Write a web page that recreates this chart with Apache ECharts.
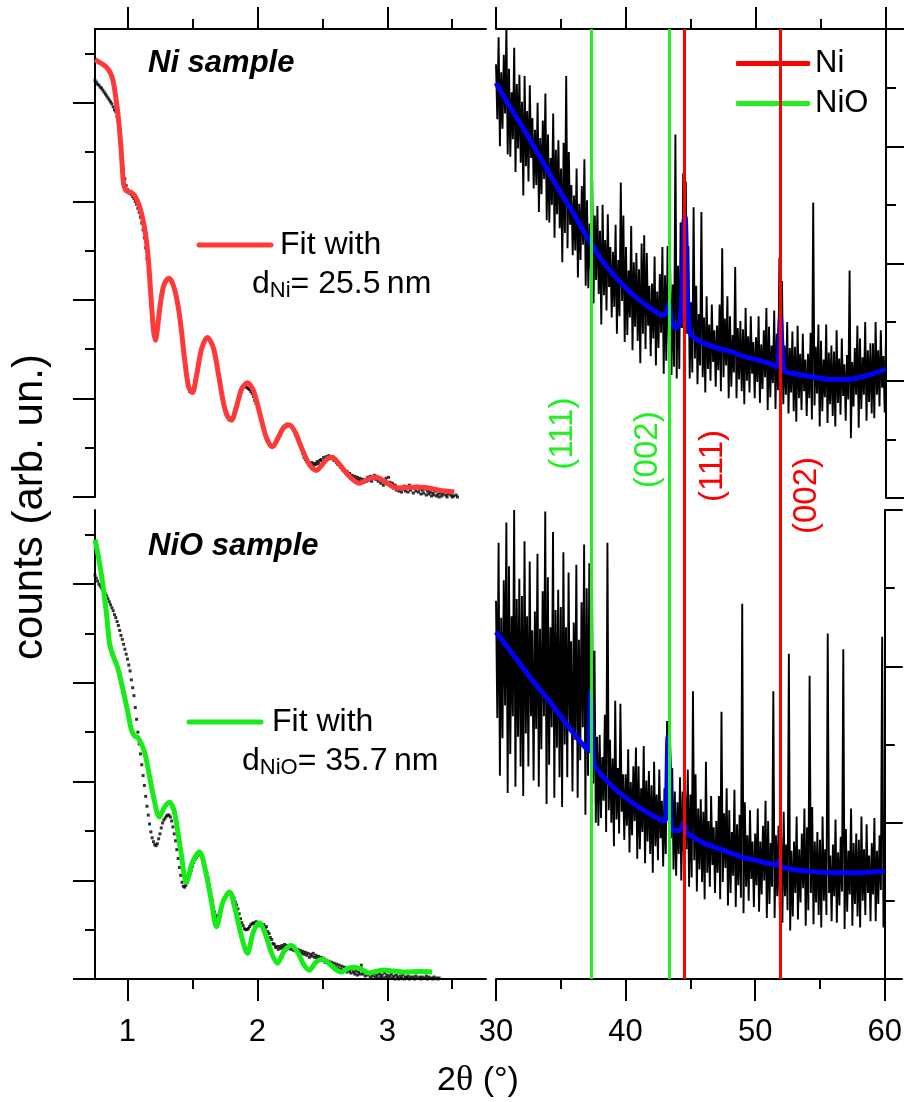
<!DOCTYPE html>
<html>
<head>
<meta charset="utf-8">
<script src="https://cdn.jsdelivr.net/npm/echarts@6/dist/echarts.min.js"></script>
<style>
  html, body { margin: 0; padding: 0; background: #fff; }
  #chart { width: 905px; height: 1102px; }
</style>
</head>
<body>
<div id="chart"></div>
<script>
// ---------- X-ray reflectivity (low angle), log10 counts, step scan ----------
const xrrStart = 0.75;
const xrrStep = 0.01;

// Ni sample, measured
const xrrNiCounts = [
  4.23,4.21,4.19,4.18,4.16,4.15,4.13,4.11,4.09,4.07,
  4.05,4.03,4.01,3.99,3.96,3.93,3.91,3.86,3.79,3.69,
  3.57,3.45,3.33,3.23,3.16,3.12,3.10,3.08,3.07,3.05,
  3.03,3.00,2.97,2.93,2.89,2.84,2.78,2.71,2.63,2.53,
  2.42,2.28,2.12,1.96,1.80,1.67,1.61,1.64,1.74,1.86,
  1.96,2.05,2.11,2.16,2.19,2.21,2.22,2.22,2.21,2.19,
  2.16,2.12,2.06,2.00,1.92,1.84,1.74,1.63,1.52,1.40,
  1.28,1.18,1.11,1.07,1.06,1.07,1.11,1.17,1.24,1.31,
  1.38,1.45,1.50,1.55,1.58,1.60,1.61,1.61,1.60,1.58,
  1.55,1.51,1.46,1.40,1.33,1.25,1.17,1.09,1.01,0.94,
  0.88,0.84,0.81,0.79,0.78,0.79,0.81,0.85,0.89,0.94,
  0.99,1.03,1.07,1.10,1.12,1.13,1.12,1.11,1.10,1.09,
  1.07,1.05,1.02,0.98,0.95,0.91,0.87,0.83,0.78,0.73,
  0.69,0.64,0.60,0.57,0.54,0.52,0.51,0.51,0.52,0.55,
  0.58,0.61,0.64,0.67,0.69,0.71,0.72,0.73,0.74,0.73,
  0.73,0.72,0.70,0.68,0.66,0.63,0.60,0.56,0.52,0.48,
  0.44,0.40,0.38,0.36,0.35,0.34,0.33,0.35,0.32,0.34,
  0.33,0.36,0.34,0.37,0.38,0.36,0.40,0.38,0.41,0.39,
  0.42,0.40,0.39,0.41,0.37,0.38,0.35,0.33,0.34,0.30,
  0.31,0.27,0.28,0.25,0.26,0.22,0.24,0.21,0.22,0.19,
  0.21,0.18,0.20,0.17,0.19,0.16,0.18,0.15,0.17,0.16,
  0.20,0.17,0.21,0.16,0.19,0.22,0.18,0.21,0.16,0.19,
  0.14,0.17,0.12,0.15,0.19,0.13,0.20,0.15,0.11,0.14,
  0.09,0.12,0.07,0.10,0.06,0.09,0.05,0.08,0.11,0.06,
  0.09,0.05,0.12,0.07,0.10,0.04,0.09,0.06,0.11,0.05,
  0.08,0.03,0.07,0.04,0.08,0.02,0.06,0.03,0.05,0.01,
  0.04,0.02,0.06,0.01,0.03,0.00,0.04,0.01,0.03,-0.01,
  0.02,0.00,0.03,-0.01,0.02,0.00,0.01,-0.01,0.02,0.00
];

// NiO sample, measured
const xrrNiOCounts = [
  4.09,4.06,4.03,4.00,3.98,3.96,3.94,3.92,3.90,3.88,
  3.85,3.82,3.79,3.76,3.73,3.69,3.66,3.62,3.58,3.53,
  3.48,3.44,3.39,3.34,3.29,3.24,3.18,3.12,3.03,2.95,
  2.87,2.75,2.63,2.50,2.38,2.28,2.17,2.06,1.96,1.85,
  1.75,1.66,1.57,1.49,1.43,1.39,1.36,1.35,1.37,1.42,
  1.47,1.53,1.58,1.61,1.63,1.65,1.66,1.66,1.64,1.60,
  1.54,1.47,1.40,1.31,1.22,1.13,1.05,0.98,0.94,0.93,
  0.95,0.98,1.02,1.06,1.10,1.14,1.18,1.21,1.23,1.25,
  1.26,1.26,1.25,1.22,1.18,1.13,1.08,1.02,0.95,0.88,
  0.80,0.73,0.68,0.64,0.63,0.65,0.68,0.72,0.76,0.79,
  0.82,0.84,0.86,0.87,0.88,0.87,0.85,0.82,0.78,0.75,
  0.71,0.66,0.61,0.57,0.54,0.51,0.50,0.50,0.51,0.53,
  0.55,0.56,0.57,0.56,0.58,0.55,0.57,0.54,0.56,0.53,
  0.55,0.51,0.53,0.48,0.46,0.42,0.40,0.36,0.35,0.32,
  0.33,0.30,0.33,0.31,0.34,0.32,0.35,0.33,0.34,0.31,
  0.33,0.30,0.32,0.29,0.31,0.28,0.30,0.27,0.29,0.26,
  0.28,0.25,0.27,0.24,0.26,0.22,0.25,0.23,0.26,0.22,
  0.24,0.21,0.23,0.20,0.22,0.19,0.21,0.17,0.19,0.16,
  0.18,0.15,0.17,0.13,0.16,0.12,0.15,0.11,0.14,0.10,
  0.13,0.09,0.12,0.10,0.07,0.11,0.08,0.06,0.10,0.07,
  0.05,0.08,0.04,0.07,0.05,0.14,0.05,0.07,0.03,0.06,
  0.04,0.06,0.02,0.05,0.03,0.06,0.02,0.04,0.01,0.05,
  0.02,0.04,0.01,0.06,0.02,0.04,0.01,0.03,0.05,0.01,
  0.03,0.00,0.04,0.02,0.00,0.03,0.01,0.04,0.00,0.02,
  0.01,0.03,0.00,0.02,-0.01,0.02,0.00,0.03,0.01,-0.01,
  0.02,0.00,0.02,-0.01,0.01,0.03,0.00,0.02,-0.01,0.01,
  0.00,0.02,-0.01,0.01,0.00,0.01
];

// Simulated reflectivity curves [2theta, log10 counts]
const xrrNiFit = [
  [0.75,4.44],[0.80,4.40],[0.84,4.36],[0.87,4.30],[0.89,4.22],[0.905,4.10],[0.92,3.96],
  [0.935,3.78],[0.95,3.55],[0.96,3.35],[0.97,3.18],[0.985,3.12],[1.00,3.10],[1.03,3.09],
  [1.06,3.05],[1.09,2.96],[1.115,2.84],[1.14,2.66],[1.16,2.42],[1.18,2.05],[1.20,1.70],
  [1.215,1.59],[1.23,1.70],[1.25,1.93],[1.28,2.15],[1.32,2.22],[1.36,2.12],[1.40,1.85],
  [1.44,1.40],[1.47,1.12],[1.50,1.06],[1.53,1.22],[1.57,1.50],[1.615,1.62],[1.66,1.52],
  [1.70,1.25],[1.74,0.95],[1.77,0.82],[1.80,0.78],[1.84,0.92],[1.88,1.10],[1.923,1.16],
  [1.97,1.08],[2.02,0.84],[2.07,0.60],[2.115,0.51],[2.16,0.60],[2.20,0.70],[2.246,0.73],
  [2.29,0.66],[2.34,0.50],[2.40,0.33],[2.454,0.27],[2.50,0.33],[2.54,0.39],[2.577,0.40],
  [2.62,0.35],[2.70,0.22],[2.785,0.14],[2.85,0.18],[2.915,0.20],[2.99,0.15],[3.07,0.09],
  [3.17,0.10],[3.27,0.10],[3.40,0.07],[3.515,0.05]
];
const xrrNiOFit = [
  [0.75,4.45],[0.78,4.25],[0.81,4.00],[0.84,3.68],[0.862,3.40],[0.89,3.27],[0.923,3.16],
  [0.95,3.02],[0.977,2.86],[1.00,2.72],[1.031,2.52],[1.055,2.46],[1.077,2.45],[1.10,2.40],
  [1.131,2.30],[1.16,2.12],[1.20,1.85],[1.246,1.64],[1.285,1.74],[1.323,1.79],[1.36,1.70],
  [1.41,1.30],[1.454,0.98],[1.50,1.18],[1.554,1.29],[1.60,1.10],[1.645,0.80],[1.685,0.53],
  [1.735,0.78],[1.785,0.88],[1.83,0.70],[1.88,0.42],[1.923,0.26],[1.97,0.48],[2.015,0.57],
  [2.06,0.46],[2.11,0.26],[2.154,0.16],[2.21,0.29],[2.262,0.34],[2.31,0.27],[2.36,0.14],
  [2.40,0.09],[2.45,0.17],[2.50,0.20],[2.55,0.16],[2.60,0.10],[2.646,0.07],[2.70,0.11],
  [2.746,0.12],[2.80,0.10],[2.862,0.06],[2.92,0.08],[2.977,0.09],[3.05,0.08],[3.15,0.07],
  [3.25,0.075],[3.346,0.07]
];

// ---------- X-ray diffraction (wide angle), log counts, step scan ----------
const xrdStart = 30;
const xrdStep = 0.1;

const xrdNiCounts = [
  3.70,3.23,3.93,3.00,3.63,3.15,3.78,3.28,4.01,2.93,
  3.66,2.91,3.46,3.06,3.84,2.78,3.53,2.98,3.61,2.86,
  3.38,2.58,3.60,2.83,3.30,2.70,3.52,2.90,3.24,2.64,
  3.14,2.67,3.37,2.44,3.07,2.59,3.22,2.72,3.45,2.37,
  3.10,2.35,2.90,2.50,3.28,2.22,2.97,2.42,3.05,2.30,
  2.81,2.01,3.03,2.26,3.60,2.13,2.95,2.33,2.67,2.07,
  2.58,2.11,2.81,1.88,2.51,2.03,2.66,2.16,2.89,1.81,
  2.54,1.79,2.34,1.94,2.72,1.66,2.41,1.86,2.49,1.74,
  2.28,1.48,2.50,1.73,2.20,1.60,2.42,1.80,2.14,1.54,
  2.10,1.63,2.33,1.40,2.03,1.55,2.69,1.68,2.41,1.33,
  2.14,1.39,1.94,1.54,2.32,1.26,2.01,1.46,2.09,1.34,
  1.95,1.15,2.17,1.40,2.24,1.27,2.09,1.47,1.81,1.21,
  1.83,1.36,2.06,1.13,1.76,1.28,1.91,1.41,2.14,1.06,
  1.90,1.17,2.15,1.30,1.95,1.05,1.82,1.12,3.10,1.02,
  1.98,1.10,2.35,1.45,2.77,1.95,2.70,1.40,2.15,1.02,
  1.67,1.07,2.48,1.19,1.81,0.97,1.57,1.13,2.44,1.03,
  1.54,0.90,1.72,1.10,1.48,1.00,1.65,1.16,1.43,0.95,
  1.47,1.09,1.65,0.91,2.13,1.03,1.53,1.13,1.72,0.85,
  1.55,0.95,1.39,1.07,1.97,0.85,1.45,1.01,1.51,0.91,
  1.44,0.80,1.62,1.00,1.38,0.90,1.55,1.06,1.33,0.85,
  1.37,0.99,1.55,0.81,1.31,0.93,1.43,1.03,1.62,0.75,
  1.46,0.86,1.30,0.98,1.60,0.76,1.40,0.92,2.05,1.20,
  1.85,0.80,1.30,0.88,1.50,0.72,1.28,0.90,1.42,0.74,
  1.29,0.65,1.47,0.85,1.23,0.75,1.40,0.91,1.18,0.70,
  1.23,0.85,1.41,0.67,2.52,0.79,1.29,0.89,1.48,0.61,
  1.34,0.74,1.18,0.86,1.48,0.64,1.24,0.80,1.30,0.70,
  1.25,0.61,1.43,0.81,1.19,0.71,1.36,0.87,1.14,0.66,
  1.22,0.84,1.94,0.51,1.16,0.78,1.28,0.88,1.47,0.60,
  1.36,0.76,1.20,0.88,1.50,0.66,1.26,0.82,1.32,0.72,
  1.32,0.68,1.50,0.88,1.26,0.78,1.43,0.94,1.21,0.73,
  1.40
];

const xrdNiOCounts = [
  2.42,1.67,2.79,1.30,2.31,1.54,2.55,1.75,2.92,1.19,
  2.64,1.44,2.32,1.68,3.00,1.23,2.43,1.55,2.56,1.36,
  2.45,1.17,2.80,1.57,2.32,1.36,2.67,1.68,2.23,1.27,
  2.35,1.60,2.72,1.23,2.24,1.47,2.48,1.68,2.99,1.12,
  2.57,1.37,2.25,1.61,2.86,1.16,2.36,1.48,2.49,1.29,
  2.38,1.10,2.73,1.50,2.25,1.29,2.60,1.61,2.16,1.20,
  2.28,1.53,2.65,1.16,2.17,1.40,2.41,1.61,2.78,1.05,
  2.50,1.30,2.66,1.55,2.72,1.25,2.10,1.00,1.55,0.98,
  1.56,1.03,1.42,1.14,1.69,0.94,2.79,1.08,1.53,1.00,
  1.41,0.85,1.78,1.02,1.35,0.93,1.76,1.07,1.31,0.89,
  1.31,0.98,1.47,0.81,1.26,0.92,1.36,1.01,1.48,0.77,
  1.36,0.83,1.22,0.94,1.49,0.74,1.27,0.88,1.33,0.80,
  1.24,0.68,1.39,0.85,1.18,0.76,1.34,0.90,1.14,0.72,
  1.22,0.80,1.65,1.10,1.94,0.90,1.35,0.70,1.20,0.66,
  1.13,0.80,1.29,0.63,1.20,0.80,1.18,0.83,1.34,0.59,
  1.18,0.65,1.84,0.76,1.31,0.56,1.09,0.70,1.15,0.62,
  1.07,0.51,1.39,0.68,1.01,0.59,1.17,0.73,0.97,0.55,
  1.01,0.68,1.17,0.51,1.71,0.62,1.06,0.71,1.22,0.47,
  1.08,0.55,0.94,0.66,1.21,0.46,0.99,0.60,1.05,0.52,
  2.40,0.42,1.13,0.59,0.92,0.50,1.08,0.64,0.88,0.46,
  0.93,0.60,1.09,0.43,0.88,0.54,0.98,0.63,1.14,0.39,
  1.01,0.48,0.87,0.59,1.84,0.39,0.92,0.53,0.98,0.45,
  0.92,0.36,1.07,0.53,0.86,0.44,2.08,0.31,0.82,0.40,
  0.88,0.55,1.04,0.38,0.83,0.49,0.93,0.58,1.09,0.34,
  0.97,0.44,1.94,0.55,1.10,0.35,0.88,0.49,0.94,0.41,
  0.89,0.33,1.04,0.50,0.83,0.41,2.21,0.55,0.79,0.37,
  0.86,0.53,1.02,0.36,0.81,0.47,0.91,0.56,2.11,0.32,
  0.96,0.43,0.82,0.54,1.09,0.34,0.87,0.48,0.93,0.40,
  0.89,0.33,1.04,0.50,0.83,0.41,0.99,0.55,0.79,0.37,
  0.87,0.54,1.03,0.37,0.82,0.48,0.92,0.57,2.19,0.33,
  0.95
];

// Background + peak fits [2theta, log counts]
const xrdNiFit = [
  [30,3.54],[31,3.35],[32,3.17],[33,2.98],[34,2.79],[35,2.60],[36,2.42],[37,2.23],[38,2.05],
  [39,1.91],[40,1.79],[41,1.69],[42,1.61],[42.8,1.56],[43.1,1.58],[43.3,1.66],[43.5,1.52],
  [43.8,1.45],[44.1,1.48],[44.3,1.75],[44.45,2.35],[44.55,2.40],[44.7,1.80],[44.9,1.42],
  [45.2,1.37],[46,1.32],[47,1.28],[48,1.25],[49,1.21],[50,1.18],[51,1.15],[51.6,1.12],
  [51.75,1.25],[51.88,1.54],[52.02,1.25],[52.2,1.08],[53,1.06],[54,1.04],[55,1.02],
  [56,1.01],[57,1.01],[58,1.03],[59,1.06],[60,1.10]
];
const xrdNiOFit = [
  [30,2.22],[31,2.11],[32,2.00],[33,1.89],[34,1.79],[35,1.68],[36,1.57],[37,1.47],[37.15,1.46],
  [37.25,1.70],[37.32,1.84],[37.4,1.65],[37.55,1.38],[38,1.32],[39,1.23],[40,1.16],[41,1.10],
  [42,1.05],[43,1.01],[43.15,1.10],[43.27,1.55],[43.4,1.30],[43.6,0.95],[44.2,0.95],
  [44.45,1.00],[44.7,0.94],[45,0.92],[46,0.87],[47,0.84],[48,0.81],[49,0.78],[50,0.76],
  [51,0.74],[51.7,0.73],[51.85,0.76],[52.0,0.72],[53,0.70],[54,0.69],[56,0.68],[58,0.68],[60,0.69]
];

// Reference reflection positions (2theta) and their indices
const niPeaks = [44.5, 51.85];
const nioPeaks = [37.3, 43.3];
const hklLabels = ['(111)', '(002)'];

// Axis ticks
const xrrTicks = [1, 2, 3];
const xrrMinorTicks = [1.5, 2.5, 3.5];
const xrdTicks = [30, 40, 50, 60];
const xrdMinorTicks = [35, 45, 55];

// ---------- styling ----------
const FONT = '"Liberation Sans", Arial, sans-serif';
const RED_FIT = '#ff3838';
const GREEN_FIT = '#18ec18';
const RED_REF = '#ff0000';
const GREEN_REF = '#22ee22';
const BLUE_FIT = '#0000ff';
const AXIS_W = 2;

const stepSeries = (start, step, values) =>
  values.map((v, i) => [Math.round((start + i * step) * 1000) / 1000, v]);

function axisPair(kind, gridIndex, position, min, max, major, minor, labels) {
  const base = { type: 'value', gridIndex, position, min, max, splitLine: { show: false } };
  return [
    Object.assign({}, base, {
      axisLine: { show: true, onZero: false, lineStyle: { color: '#000', width: AXIS_W } },
      axisTick: { show: true, inside: false, length: kind === 'y' && position === 'right' ? 18 : 22,
                  customValues: major, lineStyle: { color: '#000', width: AXIS_W } },
      axisLabel: { show: !!labels, customValues: major, margin: 38, fontSize: 31,
                   color: '#000', fontFamily: FONT }
    }),
    Object.assign({}, base, {
      axisLine: { show: false, onZero: false },
      axisTick: { show: true, inside: false, length: 10, customValues: minor,
                  lineStyle: { color: '#000', width: AXIS_W } },
      axisLabel: { show: false }
    })
  ];
}

const ticks5 = [0, 1, 2, 3, 4], half5 = [0.5, 1.5, 2.5, 3.5, 4.5];

const xAxes = [].concat(
  axisPair('x', 0, 'top', 0.75, 3.76, xrrTicks, xrrMinorTicks, false),      // 0,1
  axisPair('x', 1, 'bottom', 0.75, 3.76, xrrTicks, xrrMinorTicks, true),    // 2,3
  axisPair('x', 2, 'top', 30, 60, xrdTicks, xrdMinorTicks, false),          // 4,5
  axisPair('x', 3, 'bottom', 30, 60, xrdTicks, xrdMinorTicks, true),        // 6,7
  [{ type: 'value', gridIndex: 4, min: 30, max: 60, show: false }]         // 8
);

const yAxes = [].concat(
  axisPair('y', 0, 'left', 0, 4.75, ticks5, half5, false),                  // 0,1
  axisPair('y', 1, 'left', 0, 4.75, ticks5, half5, false),                  // 2,3
  axisPair('y', 2, 'right', 0, 4, [0, 1, 2, 3, 4], [0.5, 1.5, 2.5, 3.5], false), // 4,5
  axisPair('y', 3, 'right', 0, 3, [0, 1, 2, 3], [0.5, 1.5, 2.5], false),   // 6,7
  [{ type: 'value', gridIndex: 4, min: 0, max: 1, show: false }]           // 8
);

function refLineSeries(name, color, peaks) {
  return {
    name, type: 'line', xAxisIndex: 8, yAxisIndex: 8, data: [], color,
    lineStyle: { color, width: 3 }, itemStyle: { color },
    markLine: {
      silent: true, symbol: 'none', animation: false,
      label: { show: false },
      lineStyle: { color, width: 3, type: 'solid' },
      data: peaks.map(p => ({ xAxis: p }))
    }
  };
}

const NOISE_W = 1.9;
const series = [
  refLineSeries('NiO', GREEN_REF, nioPeaks),
  refLineSeries('Ni', RED_REF, niPeaks),
  // wide-angle scans
  { type: 'line', xAxisIndex: 4, yAxisIndex: 4, data: stepSeries(xrdStart, xrdStep, xrdNiCounts),
    showSymbol: false, lineStyle: { color: '#000', width: NOISE_W, join: 'bevel' }, silent: true },
  { type: 'line', xAxisIndex: 6, yAxisIndex: 6, data: stepSeries(xrdStart, xrdStep, xrdNiOCounts),
    showSymbol: false, lineStyle: { color: '#000', width: NOISE_W, join: 'bevel' }, silent: true },
  { type: 'line', xAxisIndex: 4, yAxisIndex: 4, data: xrdNiFit, smooth: 0.25,
    showSymbol: false, lineStyle: { color: BLUE_FIT, width: 5 }, silent: true },
  { type: 'line', xAxisIndex: 6, yAxisIndex: 6, data: xrdNiOFit, smooth: 0.25,
    showSymbol: false, lineStyle: { color: BLUE_FIT, width: 5 }, silent: true },
  // reflectivity fits
  { type: 'line', xAxisIndex: 0, yAxisIndex: 0, data: xrrNiFit, smooth: 0.3,
    showSymbol: false, lineStyle: { color: RED_FIT, width: 5 }, silent: true },
  { type: 'line', xAxisIndex: 2, yAxisIndex: 2, data: xrrNiOFit, smooth: 0.3,
    showSymbol: false, lineStyle: { color: GREEN_FIT, width: 5 }, silent: true },
  // reflectivity measurements
  { type: 'scatter', xAxisIndex: 0, yAxisIndex: 0, data: stepSeries(xrrStart, xrrStep, xrrNiCounts),
    symbol: 'rect', symbolSize: 3, itemStyle: { color: '#000' }, silent: true },
  { type: 'scatter', xAxisIndex: 2, yAxisIndex: 2, data: stepSeries(xrrStart, xrrStep, xrrNiOCounts),
    symbol: 'rect', symbolSize: 3, itemStyle: { color: '#000' }, silent: true }
];

const chart = echarts.init(document.getElementById('chart'), null, { renderer: 'canvas' });

chart.setOption({
  animation: false,
  backgroundColor: '#fff',
  grid: [
    { left: 95, top: 29, width: 391, height: 468 },
    { left: 95, top: 510, width: 391, height: 469 },
    { left: 496, top: 29, width: 390, height: 469 },
    { left: 496, top: 510, width: 390, height: 469 },
    { left: 496, top: 29, width: 390, height: 950 }
  ],
  xAxis: xAxes,
  yAxis: yAxes,
  legend: {
    data: ['Ni', 'NiO'], orient: 'vertical', left: 730, top: 40,
    icon: 'roundRect', itemWidth: 74, itemHeight: 5, itemGap: 9,
    padding: [8, 6, 8, 6], backgroundColor: '#fff',
    textStyle: { fontSize: 31, color: '#000', fontFamily: FONT },
    selectedMode: false
  },
  series
});

// ---------- annotations ----------
const px = (axisIndex, x) => chart.convertToPixel({ xAxisIndex: axisIndex }, x);
const py = (axisIndex, y) => chart.convertToPixel({ yAxisIndex: axisIndex }, y);

// hkl labels beside each reference line: [pixel offset from line, vertical center fraction]
const hklLayout = {
  nio: [[-28, 0.574], [-21, 0.557]],
  ni: [[28, 0.540], [27, 0.509]]
};
function hklText(peaks, layout, color) {
  return peaks.map((p, i) => ({
    type: 'text', z: 50,
    x: px(8, p) + layout[i][0], y: py(8, layout[i][1]), rotation: Math.PI / 2,
    style: { text: hklLabels[i], fill: color, font: '33px ' + FONT, align: 'center', verticalAlign: 'middle' }
  }));
}

const graphics = [
  { type: 'text', z: 50, x: 148, y: 63,
    style: { text: 'Ni sample', font: 'italic bold 31px ' + FONT, fill: '#000', align: 'left', verticalAlign: 'middle' } },
  { type: 'text', z: 50, x: 148, y: 546,
    style: { text: 'NiO sample', font: 'italic bold 31px ' + FONT, fill: '#000', align: 'left', verticalAlign: 'middle' } },

  { type: 'line', z: 50, shape: { x1: 199, y1: 245, x2: 271, y2: 245 },
    style: { stroke: RED_FIT, lineWidth: 5, lineCap: 'round' } },
  { type: 'text', z: 50, x: 280, y: 245,
    style: { text: 'Fit with', font: '32px ' + FONT, fill: '#000', align: 'left', verticalAlign: 'middle' } },
  { type: 'text', z: 50, x: 252, y: 284,
    style: { text: '{m|d}{s|Ni}{m|= 25.5\u2009nm}', align: 'left', verticalAlign: 'middle',
      rich: { m: { font: '32px ' + FONT, fill: '#000' },
              s: { font: '22px ' + FONT, fill: '#000', padding: [14, 0, 0, 0] } } } },

  { type: 'line', z: 50, shape: { x1: 189, y1: 722, x2: 261, y2: 722 },
    style: { stroke: GREEN_FIT, lineWidth: 5, lineCap: 'round' } },
  { type: 'text', z: 50, x: 272, y: 722,
    style: { text: 'Fit with', font: '32px ' + FONT, fill: '#000', align: 'left', verticalAlign: 'middle' } },
  { type: 'text', z: 50, x: 242, y: 761,
    style: { text: '{m|d}{s|NiO}{m|= 35.7\u2009nm}', align: 'left', verticalAlign: 'middle',
      rich: { m: { font: '32px ' + FONT, fill: '#000' },
              s: { font: '22px ' + FONT, fill: '#000', padding: [14, 0, 0, 0] } } } },

  { type: 'text', z: 50, x: 30, y: 507, rotation: Math.PI / 2,
    style: { text: 'counts (arb. un.)', font: '42px ' + FONT, fill: '#000', align: 'center', verticalAlign: 'middle' } },
  { type: 'text', z: 50, x: 478, y: 1081,
    style: { text: '{a|2}{t|\u03b8}{a| (\u00b0)}', align: 'center', verticalAlign: 'middle',
      rich: { a: { font: '34px ' + FONT, fill: '#000' },
              t: { font: '36px "Liberation Serif", "Times New Roman", serif', fill: '#000' } } } }
].concat(hklText(nioPeaks, hklLayout.nio, GREEN_REF), hklText(niPeaks, hklLayout.ni, RED_REF));

chart.setOption({ graphic: graphics });
</script>
</body>
</html>
